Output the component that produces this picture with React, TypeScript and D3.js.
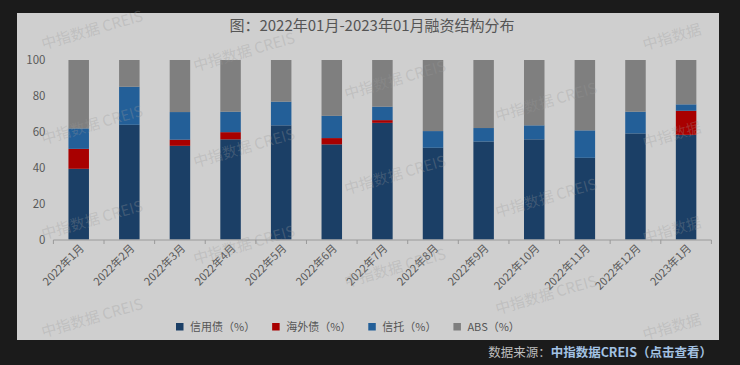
import React, { useEffect, useRef } from "react";
import * as d3 from "d3";

const categories = [
  "2022年1月", "2022年2月", "2022年3月", "2022年4月", "2022年5月", "2022年6月",
  "2022年7月", "2022年8月", "2022年9月", "2022年10月", "2022年11月", "2022年12月", "2023年1月",
];
const credit = [39.4, 63.9, 52.2, 55.8, 63.6, 53.0, 65.0, 51.1, 54.6, 55.8, 45.5, 59.1, 58.3];
const overseas = [11.1, 0, 3.4, 4.0, 0, 3.5, 1.5, 0, 0, 0, 0, 0, 13.4];
const trust = [11.4, 21.2, 15.4, 11.4, 13.2, 12.4, 7.5, 9.3, 7.5, 7.8, 15.3, 12.1, 3.6];
const absShare = [38.1, 14.9, 29.0, 28.8, 23.2, 31.1, 26.0, 39.6, 37.9, 36.4, 39.2, 28.8, 24.7];

const seriesKeys = ["credit", "overseas", "trust", "abs"];
const seriesNames = ["信用债（%）", "海外债（%）", "信托（%）", "ABS（%）"];
const seriesColors = ["#1b3f66", "#a80000", "#235f98", "#7f7f7f"];
const yTicks = [0, 20, 40, 60, 80, 100];
const titleText = "图：2022年01月-2023年01月融资结构分布";
const watermarkFull = [
  [92, 30], [92, 125], [92, 220], [92, 318],
  [244, 52], [244, 148], [244, 245],
  [395, 80], [395, 175], [395, 268],
  [546, 102], [546, 198], [546, 295],
];
const watermarkShort = [[672, 37], [672, 135], [672, 230], [672, 327]];

const FONT = "'Noto Sans CJK SC', 'Liberation Sans', sans-serif";

export default function App() {
  const ref = useRef<SVGSVGElement | null>(null);

  useEffect(() => {
    const svg = d3.select(ref.current);
    svg.selectAll("*").remove();
    const W = 740, H = 365;
    const panel = { x: 17, y: 13, w: 702, h: 327 };

    svg.append("rect").attr("width", W).attr("height", H).attr("fill", "#1b1b1b");
    svg.append("rect").attr("x", panel.x).attr("y", panel.y).attr("width", panel.w).attr("height", panel.h).attr("fill", "#cfcfcf");

    const rows = categories.map((c, i) => ({
      cat: c, credit: credit[i], overseas: overseas[i], trust: trust[i], abs: absShare[i],
    }));

    const x = d3.scaleBand<string>().domain(categories).range([53.4, 711.4]).paddingInner(0.595).paddingOuter(0.2975);
    const y = d3.scaleLinear().domain([0, 100]).range([239.5, 60]);

    const stack = d3.stack<any>().keys(seriesKeys);
    const stacked = stack(rows);

    // title
    svg.append("text").attr("x", 372).attr("y", 31).attr("text-anchor", "middle")
      .attr("font-family", FONT).attr("font-size", 15).attr("fill", "#555").text(titleText);

    // y labels
    svg.append("g").selectAll("text").data(yTicks).join("text")
      .attr("x", 45.5).attr("y", (d) => y(d)).attr("dy", "0.35em").attr("text-anchor", "end")
      .attr("font-family", FONT).attr("font-size", 11.5).attr("fill", "#5a5a5a").text((d) => String(d));

    // bars
    const g = svg.append("g");
    stacked.forEach((s, si) => {
      g.append("g").attr("fill", seriesColors[si]).selectAll("rect").data(s).join("rect")
        .attr("x", (d: any) => x(d.data.cat)!)
        .attr("width", x.bandwidth())
        .attr("y", (d: any) => y(d[1]))
        .attr("height", (d: any) => Math.max(0, y(d[0]) - y(d[1])));
    });

    // x axis
    const [r0, r1] = x.range();
    const axis = svg.append("g");
    axis.append("line").attr("x1", r0).attr("x2", r1).attr("y1", 240).attr("y2", 240)
      .attr("stroke", "#9a9a9a").attr("stroke-width", 1);
    const bounds = d3.range(categories.length + 1).map((i) => r0 + i * x.step());
    axis.selectAll("line.tk").data(bounds).join("line").attr("class", "tk")
      .attr("x1", (d) => d).attr("x2", (d) => d).attr("y1", 240).attr("y2", 244)
      .attr("stroke", "#9a9a9a");
    axis.selectAll("text").data(categories).join("text")
      .attr("transform", (d) => `translate(${x(d)! + x.bandwidth() / 2 + 6},${249}) rotate(-45)`)
      .attr("text-anchor", "end").attr("font-family", FONT).attr("font-size", 11)
      .attr("fill", "#5a5a5a").text((d) => d);

    // legend
    const lg = svg.append("g");
    let lx = 176;
    seriesNames.forEach((name, i) => {
      lg.append("rect").attr("x", lx).attr("y", 323).attr("width", 7.5).attr("height", 7.5).attr("fill", seriesColors[i]);
      const t = lg.append("text").attr("x", lx + 14).attr("y", 327).attr("dy", "0.35em")
        .attr("font-family", FONT).attr("font-size", 11).attr("fill", "#555").text(name);
      const w = (t.node() as SVGTextElement).getComputedTextLength();
      lx = lx + 14 + w + 17;
    });

    // watermarks
    const wm = svg.append("g");
    wm.selectAll("text.wf").data(watermarkFull).join("text").attr("class", "wf")
      .attr("transform", (d) => `translate(${d[0]},${d[1]}) rotate(-16)`)
      .attr("text-anchor", "middle").attr("dy", "0.35em")
      .attr("font-family", FONT).attr("font-size", 15).attr("fill", "#9a9a9a").attr("fill-opacity", 0.3)
      .text("中指数据  CREIS");
    wm.selectAll("text.ws").data(watermarkShort).join("text").attr("class", "ws")
      .attr("transform", (d) => `translate(${d[0]},${d[1]}) rotate(-16)`)
      .attr("text-anchor", "middle").attr("dy", "0.35em")
      .attr("font-family", FONT).attr("font-size", 15).attr("fill", "#9a9a9a").attr("fill-opacity", 0.3)
      .text("中指数据");

    // footer
    const ft = svg.append("text").attr("x", 712).attr("y", 353).attr("dy", "0.35em").attr("text-anchor", "end")
      .attr("font-family", FONT).attr("font-size", 12.5);
    ft.append("tspan").attr("fill", "#bdbdbd").text("数据来源：");
    ft.append("tspan").attr("fill", "#a3c2e3").attr("font-weight", "bold").text("中指数据CREIS（点击查看）");
  }, []);

  return (
    <svg ref={ref} width={740} height={365} style={{ position: "fixed", left: 0, top: 0, display: "block" }} />
  );
}
